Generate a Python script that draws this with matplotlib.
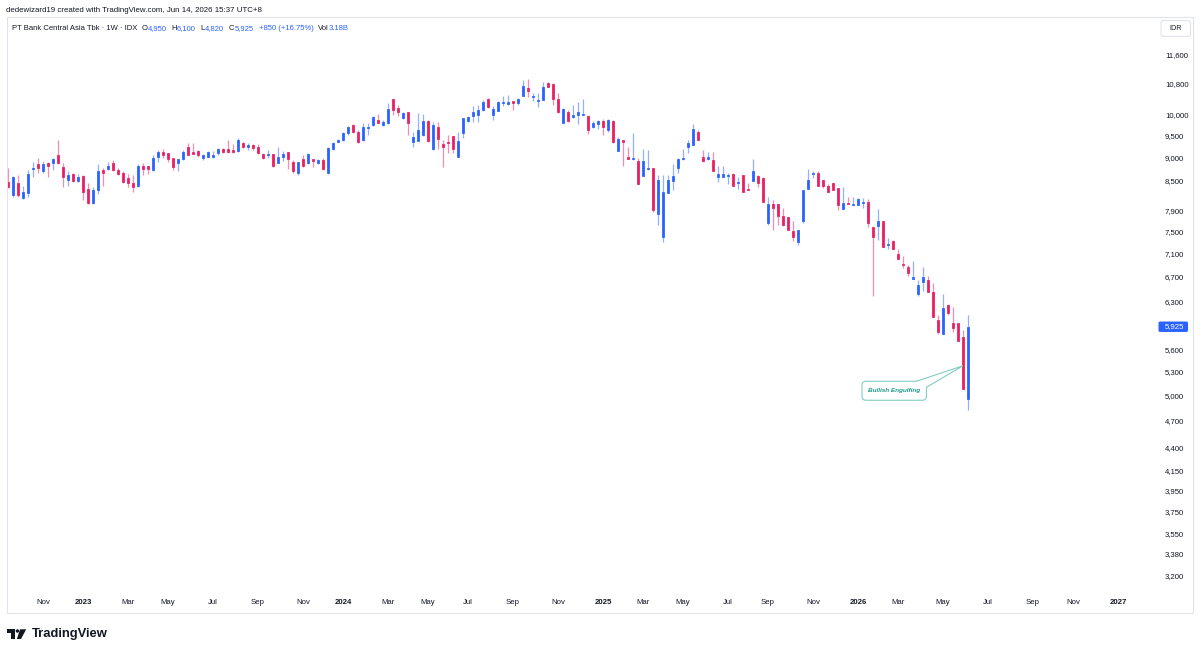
import matplotlib
matplotlib.use("Agg")
import matplotlib.pyplot as plt
import numpy as np
import pandas as pd
from matplotlib.ticker import FixedLocator, NullLocator, NullFormatter, FuncFormatter
from matplotlib.patches import Rectangle, FancyBboxPatch, Circle, Polygon

# ---- weekly OHLC, PT Bank Central Asia Tbk (IDX) ----
first_week = "2022-09-19"
closed_weeks = ["2024-04-08", "2025-03-31"]   # Lebaran weeks without a bar

opens = [8475, 8200, 8450, 8150, 8250, 8750, 8850, 8700, 8875, 8875,
         9050, 8800, 8525, 8650, 8500, 8600, 8325, 8050, 8300, 8725,
         8750, 8875, 8725, 8675, 8550, 8450, 8400, 8825, 8825, 8725,
         9025, 9125, 9100, 9000, 8875, 8975, 9250, 9125, 9150, 9000,
         9025, 9025, 9100, 9200, 9200, 9175, 9150, 9325, 9250, 9275,
         9250, 9075, 9050, 9075, 8875, 9025, 9125, 8900, 8675, 8975,
         8875, 8975, 8875, 8950, 8675, 9200, 9350, 9400, 9575, 9750,
         9600, 9400, 9675, 9750, 9875, 9750, 9800, 10400, 10175, 9925,
         10075, 9350, 9375, 9525, 9850, 9200, 9700, 9300, 9350, 9500,
         9025, 9575, 9850, 9975, 10000, 10125, 10400, 10000, 10100, 10300,
         10275, 10350, 10300, 10475, 10700, 10450, 10350, 10375, 10825, 10800,
         10400, 9800, 10075, 9950, 10000, 10000, 9975, 9700, 9775, 9850,
         9625, 9850, 9150, 9400, 9025, 8975, 8925, 8600, 8750, 8775,
         7825, 7400, 8250, 8500, 8775, 8975, 9250, 9275, 9600, 9025,
         8975, 8950, 8575, 8575, 8600, 8650, 8450, 8625, 8325, 8500,
         8600, 8550, 7650, 8025, 8025, 7800, 7775, 7500, 7300, 7700,
         8325, 8650, 8675, 8525, 8400, 8450, 8350, 7925, 8050, 8000,
         8000, 8050, 8075, 7575, 7600, 7700, 7250, 7325, 7100, 6925,
         6875, 6675, 6425, 6625, 6650, 6450, 6025, 5825, 6250, 5975,
         5975, 5775, 4950]
highs = [8775, 8600, 8625, 8400, 8725, 8900, 9000, 8925, 8900, 9000,
         9400, 8875, 8700, 8675, 8650, 8625, 8450, 8375, 8850, 8775,
         8900, 8950, 8775, 8700, 8650, 8625, 8850, 8875, 8825, 9050,
         9175, 9200, 9100, 9000, 8975, 9175, 9325, 9325, 9175, 9075,
         9150, 9150, 9225, 9225, 9400, 9300, 9450, 9350, 9325, 9300,
         9300, 9100, 9175, 9075, 9250, 9150, 9125, 8950, 8900, 9050,
         9100, 8975, 8975, 9000, 9250, 9350, 9425, 9600, 9725, 9775,
         9625, 9800, 9800, 9975, 10025, 9875, 10300, 10400, 10250, 10075,
         10075, 9600, 10050, 10025, 9875, 9825, 9825, 9400, 9525, 9500,
         9600, 9925, 9975, 10225, 10250, 10375, 10425, 10225, 10350, 10475,
         10500, 10350, 10425, 10900, 10925, 10550, 10550, 10850, 10850, 10825,
         10550, 10175, 10125, 10250, 10325, 10400, 10000, 9850, 9875, 9900,
         9900, 9875, 9475, 9400, 9250, 9575, 9000, 9200, 9175, 8775,
         8625, 8625, 8625, 8850, 9000, 9200, 9400, 9775, 9625, 9175,
         9125, 9125, 8825, 8825, 8675, 8675, 8575, 8625, 8450, 8975,
         8625, 8575, 8175, 8100, 8025, 7950, 7775, 7700, 7525, 8300,
         8750, 8700, 8700, 8525, 8425, 8450, 8350, 8375, 8175, 8175,
         8150, 8150, 8125, 7575, 7925, 7700, 7375, 7350, 7175, 7050,
         6900, 6975, 6650, 6875, 6725, 6600, 6100, 6425, 6275, 6225,
         5975, 5875, 6100]
lows = [8350, 8175, 8175, 8125, 8175, 8575, 8675, 8675, 8575, 8725,
        8850, 8375, 8400, 8475, 8475, 8100, 8025, 8025, 8225, 8400,
        8725, 8700, 8625, 8450, 8375, 8275, 8375, 8625, 8650, 8700,
        8900, 9000, 8900, 8725, 8700, 8950, 9050, 9075, 9025, 8950,
        9025, 9000, 9050, 9100, 9100, 9100, 9125, 9225, 9175, 9175,
        9075, 8975, 9000, 8800, 8875, 8925, 8750, 8675, 8625, 8800,
        8850, 8800, 8850, 8725, 8650, 9175, 9350, 9375, 9525, 9575,
        9325, 9375, 9525, 9725, 9800, 9725, 9775, 10000, 9975, 9900,
        9525, 9250, 9375, 9500, 9350, 9175, 9200, 8800, 9100, 9100,
        9025, 9450, 9825, 9825, 9825, 10100, 10175, 9875, 10100, 10225,
        10250, 10125, 10250, 10475, 10450, 10350, 10200, 10375, 10725, 10250,
        10050, 9800, 9825, 9925, 9775, 10000, 9550, 9675, 9650, 9525,
        9600, 9325, 9150, 8825, 8975, 8950, 8425, 8600, 8725, 7875,
        7625, 7300, 8250, 8300, 8675, 8950, 9100, 9275, 9400, 8900,
        8950, 8700, 8475, 8575, 8425, 8400, 8325, 8275, 8300, 8500,
        8375, 8075, 7625, 7525, 7625, 7600, 7525, 7325, 7250, 7650,
        8325, 8550, 8400, 8350, 8275, 8300, 7900, 7925, 8025, 8000,
        8000, 7950, 7575, 6400, 7350, 7225, 7175, 7175, 7000, 6850,
        6725, 6675, 6400, 6475, 6450, 6075, 5825, 5825, 6100, 5850,
        5725, 5075, 4820]
closes = [8375, 8575, 8200, 8275, 8650, 8775, 8775, 8850, 8825, 8975,
          8875, 8575, 8625, 8500, 8575, 8275, 8050, 8300, 8700, 8675,
          8825, 8725, 8650, 8475, 8450, 8375, 8825, 8750, 8750, 9000,
          9125, 9050, 8975, 8800, 8975, 9125, 9050, 9075, 9050, 9050,
          9125, 9050, 9200, 9125, 9125, 9125, 9400, 9250, 9275, 9225,
          9100, 9000, 9075, 8825, 9025, 9075, 8975, 8700, 8900, 8825,
          9075, 8925, 8950, 8750, 9225, 9325, 9400, 9575, 9700, 9600,
          9350, 9700, 9700, 9950, 9800, 9825, 10150, 10125, 10075, 10050,
          9800, 9475, 9625, 9850, 9375, 9750, 9425, 9250, 9325, 9200,
          9375, 9925, 9950, 10075, 10125, 10325, 10200, 10150, 10325, 10325,
          10325, 10300, 10400, 10750, 10625, 10475, 10375, 10725, 10725, 10400,
          10075, 10150, 9850, 10000, 10075, 10025, 9625, 9800, 9850, 9700,
          9875, 9350, 9425, 9350, 8975, 9000, 8425, 8925, 8775, 7900,
          8525, 8275, 8525, 8600, 8975, 9000, 9325, 9650, 9400, 8925,
          9025, 8700, 8650, 8650, 8625, 8400, 8475, 8275, 8300, 8700,
          8450, 8075, 8025, 7950, 7800, 7625, 7525, 7400, 7525, 8300,
          8525, 8675, 8400, 8400, 8275, 8300, 8000, 8050, 8025, 8025,
          8125, 8075, 7650, 7400, 7700, 7225, 7275, 7175, 7000, 6900,
          6775, 6700, 6575, 6700, 6450, 6075, 5850, 6200, 6125, 5900,
          5725, 5075, 5925]

price_ticks = [11600, 10800, 10000, 9500, 9000, 8500, 7900, 7500, 7100, 6700,
               6300, 5600, 5300, 5000, 4700, 4400, 4150, 3950, 3750, 3550,
               3380, 3200]
month_names = {3: "Mar", 5: "May", 7: "Jul", 9: "Sep", 11: "Nov"}

title = "PT Bank Central Asia Tbk \u00b7 1W \u00b7 IDX"
stamp = "dedewizard19 created with TradingView.com, Jun 14, 2026 15:37 UTC+8"
volume_text = "3.18B"
note_text = "Bullish Engulfing"
note_bar, note_price = 191, 5380

BLUE = "#2962ff"
RED = "#e91e63"
INK = "#131722"
FRAME = "#e0e3eb"
TEAL = "#1d9a88"
TEAL_EDGE = "#82cdc0"

plt.rcParams["font.family"] = ["Liberation Sans", "DejaVu Sans"]

W, H = 1200, 654
fig = plt.figure(figsize=(W / 100, H / 100), dpi=100)
ax = fig.add_axes([7 / W, 1 - 592 / H, 1150 / W, 575 / H])

o = np.array(opens, float)
h = np.array(highs, float)
l = np.array(lows, float)
c = np.array(closes, float)
x = np.arange(len(o))
col = np.where(c >= o, BLUE, RED)

ax.vlines(x, l, h, colors=col, lw=0.9, alpha=0.5, zorder=2)
lo = np.minimum(o, c)
ax.bar(x, np.maximum(o, c) - lo, bottom=lo, width=0.55, color=col,
       edgecolor=col, lw=0.55, zorder=3)

ax.set_yscale("log")
ax.set_xlim(-0.2, 229.8)
ax.set_ylim(3075, 12743)
ax.yaxis.tick_right()
ax.yaxis.set_major_locator(FixedLocator(price_ticks))
ax.yaxis.set_minor_locator(NullLocator())
ax.yaxis.set_minor_formatter(NullFormatter())
ax.yaxis.set_major_formatter(FuncFormatter(lambda v, p: f"{v:,.0f}"))
ax.tick_params(axis="y", length=0, pad=5.8, labelsize=5.6, colors=INK)

# month labels at the first weekly bar of every odd month
weeks = pd.date_range(first_week, "2027-03-01", freq="W-MON")
weeks = weeks.drop(pd.to_datetime(closed_weeks))
pos, labs, bold = [], [], []
for i in range(1, len(weeks)):
    d = weeks[i]
    if d.month != weeks[i - 1].month and d.month % 2 == 1 and i < 229.8:
        pos.append(i)
        labs.append(str(d.year) if d.month == 1 else month_names[d.month])
        bold.append(d.month == 1)
ax.set_xticks(pos, labs)
ax.tick_params(axis="x", length=0, pad=5.2, labelsize=5.6, colors=INK)
for t, b in zip(ax.get_xticklabels(), bold):
    if b:
        t.set_fontweight("bold")
for s in ax.spines.values():
    s.set_visible(False)

# overlay in pixel units for the frame, header, tags and logo
ov = fig.add_axes([0, 0, 1, 1], zorder=5)
ov.set_xlim(0, W)
ov.set_ylim(H, 0)
ov.axis("off")
ov.patch.set_alpha(0)


def to_px(xb, price):
    dx, dy = ax.transData.transform((xb, price))
    return dx, H - dy


ov.add_patch(Rectangle((7, 17), 1186, 596, fill=False, ec=FRAME, lw=0.8))
ov.text(6, 12.3, stamp, fontsize=5.65, color=INK, va="baseline", ha="left")

# legend line with OHLC values
renderer = fig.canvas.get_renderer()
segments = [(title, INK, 0), ("O", INK, 4), (f"{opens[-1]:,}", BLUE, 0),
            ("H", INK, 5), (f"{highs[-1]:,}", BLUE, 0),
            ("L", INK, 5), (f"{lows[-1]:,}", BLUE, 0),
            ("C", INK, 5), (f"{closes[-1]:,}", BLUE, 0)]
chg = closes[-1] - closes[-2]
segments.append((f"+{chg:,} (+{chg / closes[-2] * 100:.2f}%)", BLUE, 5))
segments += [("Vol", INK, 5), (volume_text, BLUE, 0)]
cx = 12
for txt, colr, gap in segments:
    cx += gap
    t = ov.text(cx, 29.6, txt, fontsize=5.5, color=colr, va="baseline", ha="left")
    cx += t.get_window_extent(renderer=renderer).width

# currency box
ov.add_patch(FancyBboxPatch((1161, 20.5), 29.5, 16, boxstyle="round,pad=0,rounding_size=2.5",
                            fc="white", ec=FRAME, lw=0.8))
ov.text(1175.7, 28.7, "IDR", fontsize=5.2, color=INK, ha="center", va="center")

# last price tag
_, ty = to_px(0, closes[-1])
ov.add_patch(FancyBboxPatch((1158.5, ty - 5.2), 29.5, 10.4,
                            boxstyle="round,pad=0,rounding_size=1.5", fc=BLUE, ec="none"))
ov.text(1165, ty, f"{closes[-1]:,}", fontsize=5.6, color="white", ha="left", va="center")

# callout
tx, ty = to_px(note_bar, note_price)
bx0, bx1 = tx - 101, tx - 36.5
by0, by1 = ty + 15.5, ty + 34.5
ov.add_patch(FancyBboxPatch((bx0, by0), bx1 - bx0, by1 - by0,
                            boxstyle="round,pad=0,rounding_size=4",
                            fc="white", ec=TEAL_EDGE, lw=0.8, zorder=6))
b1 = (bx1 - 10, by0)
b2 = (bx1, by0 + 6)
ov.add_patch(Polygon([b1, (tx, ty), b2, (bx1 - 1.2, by0 + 6.5), (bx1 - 10.5, by0 + 1.2)],
                     closed=True, fc="white", ec="none", zorder=7))
ov.plot([b1[0], tx, b2[0]], [b1[1], ty, b2[1]], color=TEAL_EDGE, lw=0.8, zorder=8,
        solid_joinstyle="miter")
ov.text((bx0 + bx1) / 2, (by0 + by1) / 2, note_text, fontsize=4.6, color=TEAL,
        style="italic", weight="bold", ha="center", va="center", zorder=9)

# TradingView logo
ov.add_patch(Rectangle((7.3, 629.3), 7.2, 3.4, fc=INK, ec="none"))
ov.add_patch(Rectangle((11.0, 629.3), 3.5, 9.7, fc=INK, ec="none"))
ov.add_patch(Circle((17.4, 631.0), 1.7, fc=INK, ec="none"))
ov.add_patch(Polygon([(20.0, 629.3), (26.2, 629.3), (21.0, 639.0), (16.9, 639.0)],
                     closed=True, fc=INK, ec="none"))
ov.text(31.5, 634.2, "TradingView", fontsize=9.4, weight="bold", color=INK,
        ha="left", va="center")

fig.savefig("out.png", dpi=100)
